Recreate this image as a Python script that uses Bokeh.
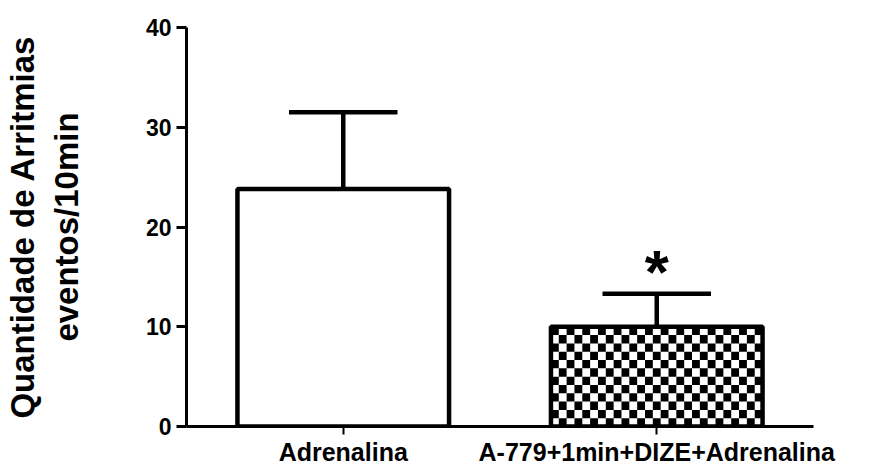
import numpy as np
from bokeh.plotting import figure
from bokeh.models import Range1d, FixedTicker
from bokeh.core.properties import value
from bokeh.embed import file_html
from bokeh.resources import INLINE

# ---- data ----
categories = ["Adrenalina", "A-779+1min+DIZE+Adrenalina"]
means = [23.8, 10.0]
errors = [7.7, 3.3]
y_ticks = [0, 10, 20, 30, 40]
significance = ["", "*"]

xs = np.arange(1, len(categories) + 1)
tops = np.array(means)
err_top = tops + np.array(errors)

p = figure(width=868, height=468, output_backend="svg", toolbar_location=None,
           x_range=Range1d(0.5, len(categories) + 0.5), y_range=Range1d(0, 40),
           min_border_left=184, min_border_right=55, min_border_top=27, min_border_bottom=41)
p.outline_line_color = None
p.grid.visible = False
p.background_fill_color = "white"

bar_w = 0.675

# white fill of all bars
p.vbar(x=xs, top=tops, width=bar_w, fill_color="white", line_color=None)

# checker pattern for the second bar
ncols, nrows = 27, 12
i = 1
x0 = xs[i] - bar_w / 2
cw = bar_w / ncols
ch = tops[i] / nrows
cx, cy = [], []
for r in range(nrows):
    for c in range(ncols):
        if (r + c) % 2 == 1:
            cx.append(x0 + (c + 0.5) * cw)
            cy.append((r + 0.5) * ch)
p.rect(x=cx, y=cy, width=cw, height=ch, fill_color="black", line_color=None)

# bar borders
p.vbar(x=xs, top=tops, width=bar_w, fill_color=None, line_color="black", line_width=4.5)

# error bars (upper only)
p.segment(x0=xs, y0=tops, x1=xs, y1=err_top, line_color="black", line_width=4.5)
cap = 0.173
p.segment(x0=xs - cap, y0=err_top, x1=xs + cap, y1=err_top, line_color="black", line_width=4.5)

# significance marks
p.text(x=xs, y=err_top, text=significance, text_align="center", text_baseline="alphabetic",
       y_offset=-22,
       text_font=value("Liberation Sans"), text_font_style="bold", text_font_size="62px",
       text_color="black")

# axes
p.xaxis.ticker = FixedTicker(ticks=list(xs))
p.xaxis.major_label_overrides = {int(x): c for x, c in zip(xs, categories)}
p.xaxis.major_label_text_font = "Liberation Sans"
p.xaxis.major_label_text_font_style = "bold"
p.xaxis.major_label_text_font_size = "25px"
p.xaxis.major_label_text_color = "black"
p.xaxis.major_label_standoff = 3
p.xaxis.axis_line_width = 3
p.xaxis.axis_line_color = "black"
p.xaxis.major_tick_line_width = 2
p.xaxis.major_tick_in = 0
p.xaxis.major_tick_out = 8
p.xaxis.minor_tick_line_color = None

p.yaxis.ticker = FixedTicker(ticks=y_ticks)
p.yaxis.major_label_text_font = "Liberation Sans"
p.yaxis.major_label_text_font_style = "bold"
p.yaxis.major_label_text_font_size = "23px"
p.yaxis.major_label_text_color = "black"
p.yaxis.major_label_standoff = 5
p.yaxis.axis_line_width = 3
p.yaxis.axis_line_color = "black"
p.yaxis.major_tick_line_width = 3
p.yaxis.major_tick_in = 0
p.yaxis.major_tick_out = 10
p.yaxis.minor_tick_line_color = None
p.yaxis.axis_label = "Quantidade de Arritmias\neventos/10min"
p.yaxis.axis_label_text_font = "Liberation Sans"
p.yaxis.axis_label_text_font_style = "bold"
p.yaxis.axis_label_text_font_size = "33px"
p.yaxis.axis_label_text_color = "black"
p.yaxis.axis_label_standoff = 58

open("out.html", "w").write(file_html(p, INLINE))
